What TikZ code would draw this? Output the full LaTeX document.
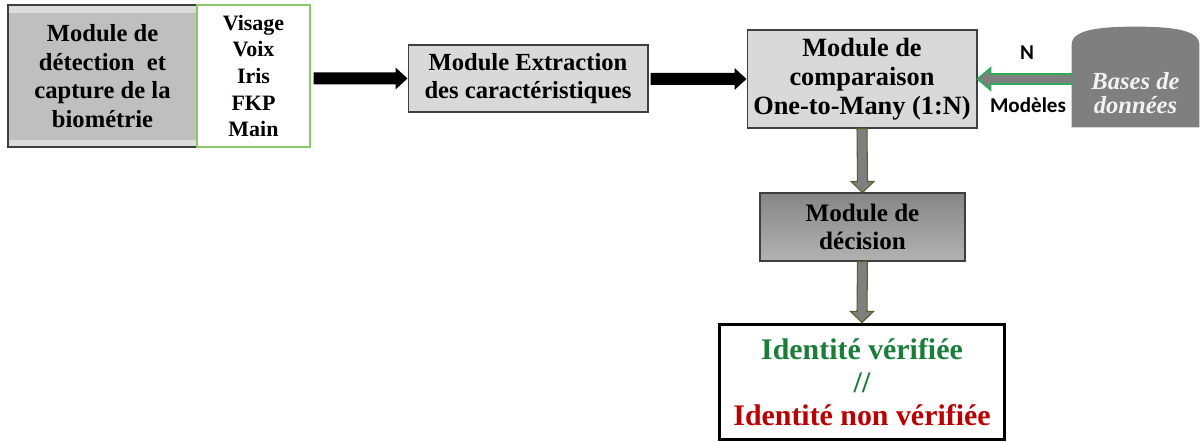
\documentclass[tikz,border=0pt]{standalone}
\usepackage{fontspec}
\setmainfont{Liberation Serif}
\newfontfamily\labelfont{Carlito}
\usetikzlibrary{calc}

\definecolor{edgegray}{HTML}{3F3F3F}
\definecolor{boxlight}{HTML}{D9D9D9}
\definecolor{boxmid}{HTML}{BFBFBF}
\definecolor{bandlight}{HTML}{DCDCDC}
\definecolor{listgreen}{HTML}{8CC66B}
\definecolor{arrowgray}{HTML}{7F7F7F}
\definecolor{olive}{HTML}{4F6228}
\definecolor{linkgreen}{HTML}{2EAA5C}
\definecolor{dbgray}{HTML}{7F7F7F}
\definecolor{dbtext}{HTML}{F2F2F2}
\definecolor{okgreen}{HTML}{1B7D3A}
\definecolor{badred}{HTML}{BA0000}

\begin{document}
\begin{tikzpicture}[x=0.02cm, y=-0.02cm,
  boxtext/.style={align=center, inner sep=0pt, text=black},
  greybox/.style={boxtext, draw=edgegray, line width=0.6pt, fill=boxlight},
  blockarrow/.style={fill=black, draw=none},
  outlinearrow/.style={fill=arrowgray, draw=olive, line width=0.6pt, line join=miter},
  linkarrow/.style={fill=arrowgray, draw=linkgreen, line width=0.9pt, line join=miter}
]
\useasboundingbox (0,0) rectangle (1201,442);

% capture module, with lighter bands at top and bottom
\node[boxtext, draw=edgegray, line width=0.8pt, fill=boxmid,
      minimum width=3.78cm, minimum height=2.84cm,
      font=\fontsize{14}{16.4}\selectfont\bfseries,
      path picture={
        \fill[bandlight] (path picture bounding box.north west) rectangle ($(path picture bounding box.north east)+(0,8)$);
        \fill[bandlight] (path picture bounding box.south west) rectangle ($(path picture bounding box.south east)+(0,-7)$);
      }] (capture) at (102.5,76)
  {Module de\\détection\ \ et\\capture de la\\biométrie};

% list of modalities
\node[boxtext, draw=listgreen, line width=0.8pt, fill=white,
      minimum width=2.26cm, minimum height=2.84cm,
      font=\fontsize{12.5}{15.1}\selectfont\bfseries] (mods) at (253.5,76)
  {Visage\\Voix\\Iris\\FKP\\Main};

% feature extraction
\node[greybox, minimum width=4.8cm, minimum height=1.34cm,
      font=\fontsize{14}{15.9}\selectfont\bfseries] (extract) at (528,78.5)
  {Module Extraction\\des caractéristiques};

% one-to-many comparison
\node[greybox, minimum width=4.6cm, minimum height=1.96cm,
      font=\fontsize{15}{16.5}\selectfont\bfseries] (compare) at (862,79)
  {Module de\\comparaison\\One-to-Many (1:N)};

% decision
\node[boxtext, draw=edgegray, line width=0.6pt, top color=arrowgray!95!white, bottom color=boxmid!80!arrowgray,
      minimum width=4.1cm, minimum height=1.36cm,
      font=\fontsize{14.3}{16.4}\selectfont\bfseries] (decide) at (862.5,227)
  {Module de\\décision};

% result
\node[boxtext, draw=black, line width=1.7pt, fill=white,
      minimum width=5.72cm, minimum height=2.32cm,
      font=\fontsize{17}{18.7}\selectfont\bfseries] (result) at (862,382)
  {\textcolor{okgreen}{Identité vérifiée}\\\textcolor{okgreen}{//}\\\textcolor{badred}{Identité non vérifiée}};

% database
\node[minimum width=2.54cm, minimum height=2.0cm, inner sep=0pt] (db) at (1135.5,77) {};
\fill[dbgray]
  ($(db.south west)$) -- ($(db.north west)+(0,18)$)
  .. controls ($(db.north west)+(0,3)$) and ($(db.north)+(-36,0)$) .. (db.north)
  .. controls ($(db.north)+(36,0)$) and ($(db.north east)+(0,3)$) .. ($(db.north east)+(0,18)$)
  -- (db.south east) -- cycle;
\node[align=center, inner sep=0pt, text=dbtext,
      font=\fontsize{14}{14}\selectfont\bfseries\itshape] (dblabel) at ($(db.center)+(0,16)$)
  {Bases de\\données};

% black block arrows along the top row
\coordinate (a1s) at ($(mods.east |- extract.west)+(3,0)$);
\fill[blockarrow] ($(a1s)+(0,-6)$) -- ($(extract.west)+(-12,-6)$) -- ($(extract.west)+(-12,-11)$)
  -- (extract.west) -- ($(extract.west)+(-12,11)$) -- ($(extract.west)+(-12,6)$) -- ($(a1s)+(0,6)$) -- cycle;

\coordinate (a2s) at ($(extract.east |- compare.west)+(2,0)$);
\fill[blockarrow] ($(a2s)+(0,-6)$) -- ($(compare.west)+(-12,-6)$) -- ($(compare.west)+(-12,-11)$)
  -- (compare.west) -- ($(compare.west)+(-12,11)$) -- ($(compare.west)+(-12,6)$) -- ($(a2s)+(0,6)$) -- cycle;

% templates fed from the database
\coordinate (a3s) at (db.west |- compare.east);
\draw[linkarrow] ($(a3s)+(0,-5)$) -- ($(compare.east)+(13,-5)$) -- ($(compare.east)+(13,-11)$)
  -- (compare.east) -- ($(compare.east)+(13,11)$) -- ($(compare.east)+(13,5)$) -- ($(a3s)+(0,5)$) -- cycle;
\node[font=\labelfont\fontsize{12}{12}\selectfont\bfseries, inner sep=0pt] (nlabel) at (1027,53) {N};
\node[font=\labelfont\fontsize{12}{12}\selectfont\bfseries, inner sep=0pt] (tpllabel) at (1028,105) {Modèles};

% downward arrows
\draw[outlinearrow] ($(compare.south)+(-5,0)$) -- ($(decide.north)+(-5,-11)$) -- ($(decide.north)+(-11.5,-11)$)
  -- (decide.north) -- ($(decide.north)+(11.5,-11)$) -- ($(decide.north)+(5,-11)$) -- ($(compare.south)+(5,0)$) -- cycle;
\draw[outlinearrow] ($(decide.south)+(-5,0)$) -- ($(result.north)+(-5,-11)$) -- ($(result.north)+(-11.5,-11)$)
  -- (result.north) -- ($(result.north)+(11.5,-11)$) -- ($(result.north)+(5,-11)$) -- ($(decide.south)+(5,0)$) -- cycle;

\end{tikzpicture}
\end{document}
